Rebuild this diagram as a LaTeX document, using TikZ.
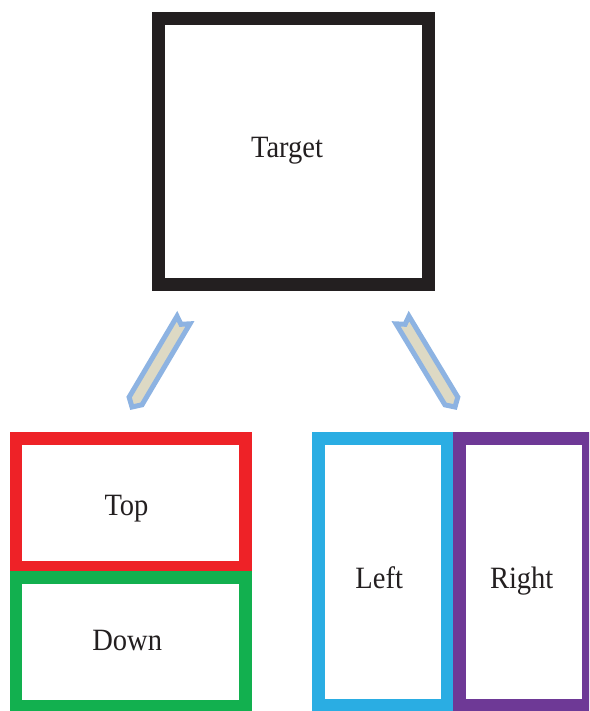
\documentclass[tikz,border=0pt]{standalone}
\usepackage{fontspec}
\setmainfont{Liberation Serif}
\usetikzlibrary{calc}
\definecolor{cblack}{HTML}{231F20}
\definecolor{cred}{HTML}{EE2227}
\definecolor{cgreen}{HTML}{12B04F}
\definecolor{cblue}{HTML}{2AADE3}
\definecolor{cpurple}{HTML}{6E3996}
\definecolor{afill}{HTML}{DDD9C4}
\definecolor{aline}{HTML}{8DB3E2}
\newcommand{\lbltext}[1]{\scalebox{0.92}[1]{#1}}
\begin{document}
\begin{tikzpicture}[x=1pt,y=-1pt,
  box/.style={draw=#1,line width=12.6pt,inner sep=0pt,outer sep=0pt},
  lbl/.style={anchor=base,inner sep=0pt,text=cblack,font=\fontsize{31}{36}\selectfont},
  fatarrow/.style={fill=afill,draw=aline,line width=5pt,line join=miter}]
\useasboundingbox (0,0) rectangle (589,711);
\clip (0,0) rectangle (589,711);
% boxes
\node[box=cblack,minimum width=269.6pt,minimum height=266.5pt] (target) at (293.5,151.5) {};
\node[box=cred,minimum width=229.5pt,minimum height=128.4pt] (top) at (130.7,502.8) {};
\node[box=cgreen,minimum width=229.5pt,minimum height=128.5pt] (down) at (130.7,641.75) {};
\node[box=cblue,minimum width=128.8pt,minimum height=266.9pt] (left) at (383.1,572) {};
\node[box=cpurple,minimum width=128.6pt,minimum height=266.9pt] (right) at (524,572) {};
% labels
\node[lbl] (ltarget) at (287,157.3) {\lbltext{Target}};
\node[lbl] (ltop) at (126.5,515.7) {\lbltext{Top}};
\node[lbl] (ldown) at (127.2,650.3) {\lbltext{Down}};
\node[lbl] (lleft) at (379.2,588.3) {\lbltext{Left}};
\node[lbl] (lright) at (521.7,588.3) {\lbltext{Right}};
% arrows
\coordinate (t1) at (183.5,320);
\coordinate (p1) at (132,407);
\coordinate (t2) at (402.5,320);
\coordinate (p2) at (455,407);
\foreach \T/\P in {t1/p1,t2/p2}{
  \draw[fatarrow]
    ($(\T)!7.5pt!90:(\P)$) --
    ($($(\P)!7pt!(\T)$)!7.5pt!-90:(\T)$) --
    (\P) --
    ($($(\P)!7pt!(\T)$)!7.5pt!90:(\T)$) --
    ($(\T)!7.5pt!-90:(\P)$) --
    ($(\T)!5pt!(\P)$) -- cycle;
}
\end{tikzpicture}
\end{document}
